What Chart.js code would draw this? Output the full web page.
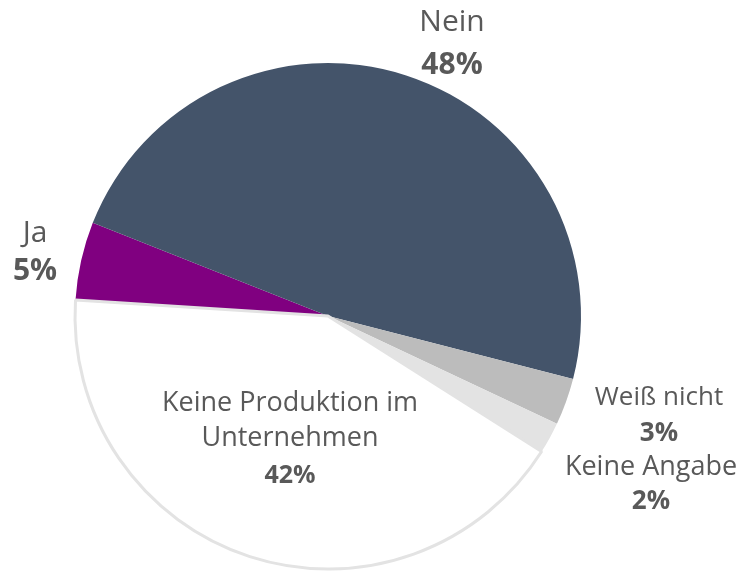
<!DOCTYPE html>
<html>
<head>
<meta charset="utf-8">
<script src="https://cdn.jsdelivr.net/npm/chart.js@4.4.1/dist/chart.umd.min.js"></script>
<style>
  html, body { margin: 0; padding: 0; background: #ffffff; }
  #wrap { position: relative; width: 741px; height: 572px; }
</style>
</head>
<body>
<div id="wrap"><canvas id="c" width="741" height="572"></canvas></div>
<script>
// ---- data ----
const categories = ["Ja", "Nein", "Weiß nicht", "Keine Angabe", "Keine Produktion im Unternehmen"];
const values = [5, 48, 3, 2, 42];
const percentLabels = ["5%", "48%", "3%", "2%", "42%"];
const nameLines = [["Ja"], ["Nein"], ["Weiß nicht"], ["Keine Angabe"], ["Keine Produktion im", "Unternehmen"]];

// ---- styles / layout (not data) ----
const sliceColors = ["#800080", "#44546a", "#bcbcbc", "#e3e3e3", "#ffffff"];
const sliceBorders = ["#800080", "#44546a", "#bcbcbc", "#e3e3e3", "#e3e3e3"];
const sliceBorderWidths = [0, 0, 0, 0, 3];
// baselines of each text line (name lines, then percentage)
const labelAnchors = [
  {x: 35,  baselines: [242, 280], nameSize: 30, pctSize: 30},
  {x: 452, baselines: [31, 74],   nameSize: 30, pctSize: 30},
  {x: 659, baselines: [405, 441], nameSize: 26, pctSize: 26},
  {x: 651, baselines: [475, 509], nameSize: 27, pctSize: 26},
  {x: 290, baselines: [411, 446, 483], nameSize: 27, pctSize: 25}
];
const textColor = "#595959";
const fontFamily = "'Open Sans', 'Noto Sans', sans-serif";

const labelPlugin = {
  id: 'sliceLabels',
  afterDatasetsDraw(chart) {
    const ctx = chart.ctx;
    ctx.save();
    ctx.textAlign = 'center';
    ctx.textBaseline = 'alphabetic';
    ctx.fillStyle = textColor;
    categories.forEach((cat, i) => {
      const a = labelAnchors[i];
      ctx.font = `normal ${a.nameSize}px ${fontFamily}`;
      nameLines[i].forEach((line, k) => {
        ctx.fillText(line, a.x, a.baselines[k]);
      });
      ctx.font = `bold ${a.pctSize}px ${fontFamily}`;
      ctx.fillText(percentLabels[i], a.x, a.baselines[nameLines[i].length]);
    });
    ctx.restore();
  }
};

new Chart(document.getElementById('c'), {
  type: 'pie',
  data: {
    labels: categories,
    datasets: [{
      data: values,
      backgroundColor: sliceColors,
      borderColor: sliceBorders,
      borderWidth: sliceBorderWidths,
      hoverOffset: 0
    }]
  },
  options: {
    responsive: false,
    animation: false,
    rotation: -86.4,
    radius: 253,
    layout: { padding: { left: 0, right: 85, top: 60, bottom: 0 } },
    plugins: {
      legend: { display: false },
      tooltip: { enabled: false }
    }
  },
  plugins: [labelPlugin]
});
</script>
</body>
</html>
